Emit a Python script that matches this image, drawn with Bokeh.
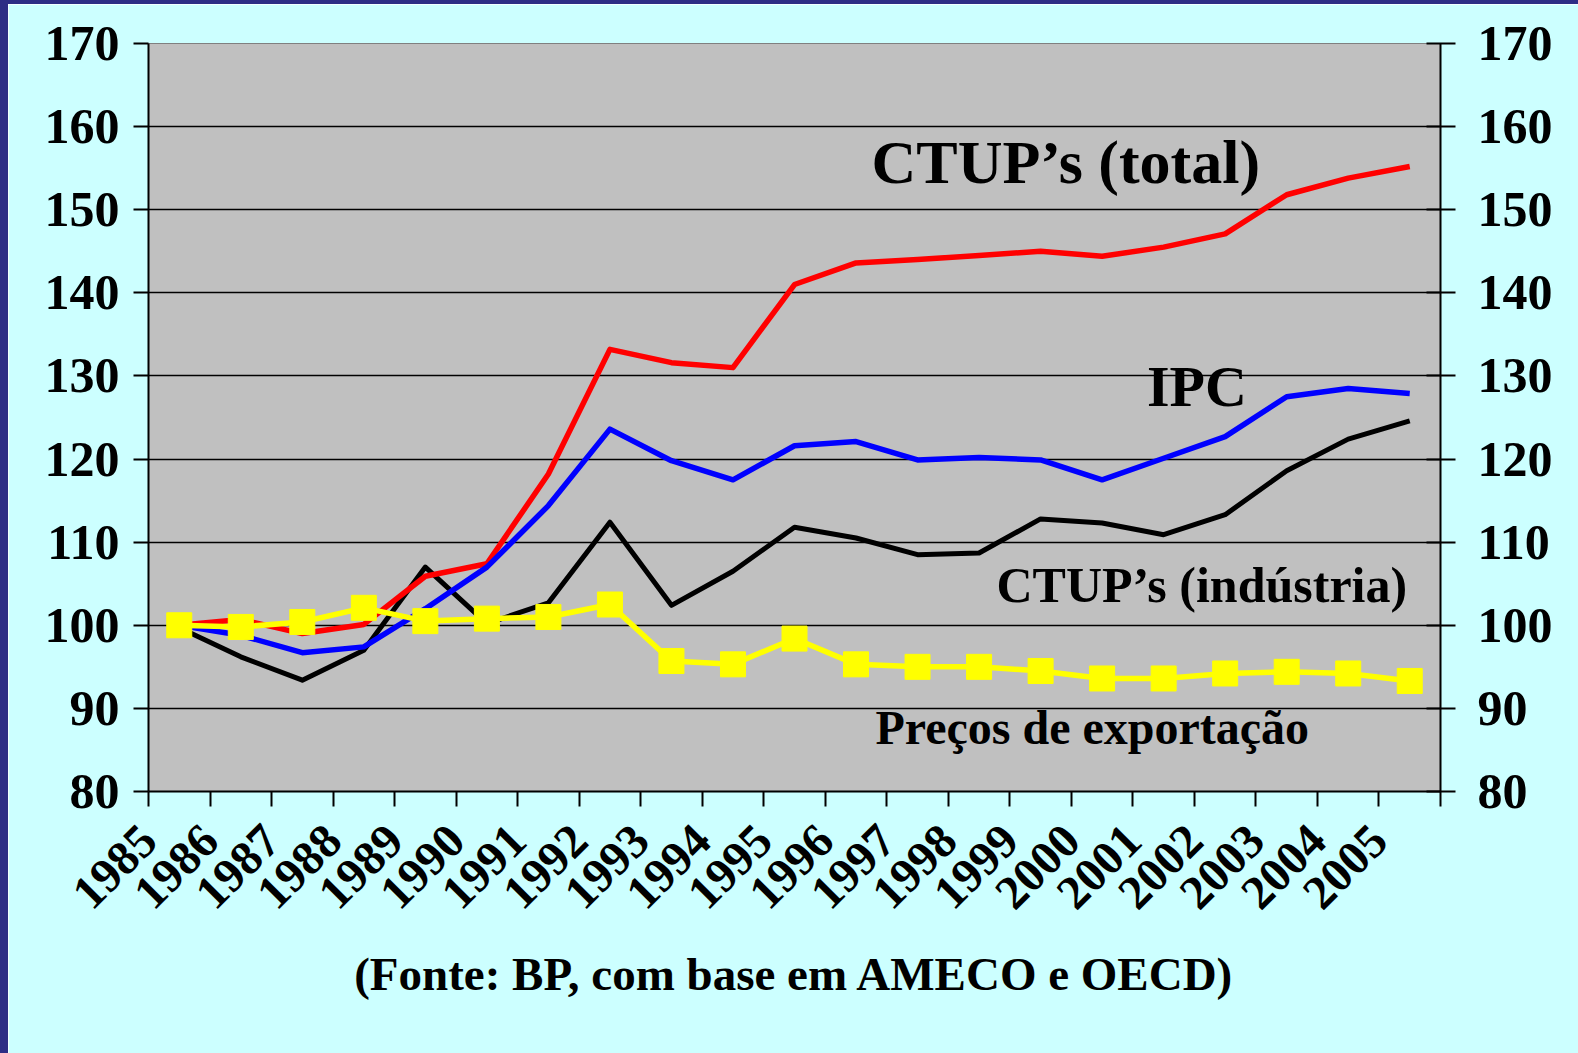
from math import pi
from bokeh.plotting import figure
from bokeh.models import Range1d, LinearAxis, FixedTicker, Label, Spacer
from bokeh.layouts import row, column
from bokeh.embed import file_html
from bokeh.resources import INLINE

years = ["1985", "1986", "1987", "1988", "1989", "1990", "1991", "1992", "1993", "1994",
         "1995", "1996", "1997", "1998", "1999", "2000", "2001", "2002", "2003", "2004", "2005"]
ctup_total = [100.0, 100.7, 99.0, 100.1, 105.9, 107.4, 118.2, 133.2, 131.6, 131.0,
              141.0, 143.6, 144.0, 144.5, 145.0, 144.4, 145.5, 147.1, 151.8, 153.8, 155.2]
ipc = [100.0, 98.8, 96.7, 97.4, 102.0, 107.0, 114.4, 123.6, 119.8, 117.5,
       121.6, 122.1, 119.9, 120.2, 119.9, 117.5, 120.1, 122.7, 127.5, 128.5, 127.9]
ctup_ind = [99.7, 96.2, 93.4, 97.0, 107.0, 100.2, 102.7, 112.4, 102.4, 106.5,
            111.8, 110.5, 108.5, 108.7, 112.8, 112.3, 110.9, 113.3, 118.6, 122.4, 124.6]
export_prices = [100.0, 99.8, 100.4, 102.1, 100.5, 100.8, 101.0, 102.5, 95.7, 95.3,
                 98.4, 95.3, 95.0, 95.0, 94.5, 93.6, 93.6, 94.2, 94.4, 94.2, 93.3]
y_ticks = [80, 90, 100, 110, 120, 130, 140, 150, 160, 170]
source_note = "(Fonte: BP, com base em AMECO e OECD)"

FONT = "Liberation Serif"
NAVY = "#2D2D85"
n = len(years)
xs = [i + 0.5 for i in range(n)]

p = figure(width=1570, height=1049, output_backend="svg", toolbar_location=None,
           x_range=Range1d(0, n), y_range=Range1d(y_ticks[0], y_ticks[-1]),
           min_border_left=140, min_border_right=138, min_border_top=39, min_border_bottom=262,
           background_fill_color="#C0C0C0", border_fill_color="#CCFFFF",
           outline_line_color="#808080", outline_line_width=1)

# grid
p.xgrid.visible = False
p.ygrid.ticker = FixedTicker(ticks=y_ticks)
p.ygrid.grid_line_color = "black"
p.ygrid.grid_line_width = 1.5

# x axis
xa = p.xaxis[0]
xa.ticker = FixedTicker(ticks=list(range(n + 1)))
ov = {i: years[i] for i in range(n)}
ov[n] = ""
xa.major_label_overrides = ov
xa.major_label_orientation = pi / 4
xa.major_tick_out = 15
xa.major_tick_in = 0
xa.minor_tick_line_color = None
xa.axis_line_width = 2
xa.major_tick_line_width = 2
xa.major_label_standoff = 26
xa.major_label_text_font = FONT
xa.major_label_text_font_style = "bold"
xa.major_label_text_font_size = "48px"
xa.major_label_text_color = "black"
xa.axis_label = source_note
xa.axis_label_text_font = FONT
xa.axis_label_text_font_style = "bold"
xa.axis_label_text_font_size = "47px"
xa.axis_label_text_color = "black"
xa.axis_label_standoff = 22

# left y axis
ya = p.yaxis[0]
ya.ticker = FixedTicker(ticks=y_ticks)
ya.major_tick_out = 15
ya.major_tick_in = 0
ya.minor_tick_line_color = None
ya.axis_line_width = 2
ya.major_tick_line_width = 2
ya.major_label_standoff = 14
ya.major_label_text_font = FONT
ya.major_label_text_font_style = "bold"
ya.major_label_text_font_size = "50px"
ya.major_label_text_color = "black"

# right y axis
p.extra_y_ranges = {"r": Range1d(y_ticks[0], y_ticks[-1])}
ra = LinearAxis(y_range_name="r", ticker=FixedTicker(ticks=y_ticks))
ra.major_tick_out = 15
ra.major_tick_in = 14
ra.minor_tick_line_color = None
ra.axis_line_width = 2
ra.major_tick_line_width = 2
ra.major_label_standoff = 22
ra.major_label_text_font = FONT
ra.major_label_text_font_style = "bold"
ra.major_label_text_font_size = "50px"
ra.major_label_text_color = "black"
p.add_layout(ra, "right")

# series
p.line(xs, ctup_ind, line_color="black", line_width=5, line_join="round")
p.line(xs, ctup_total, line_color="#FF0000", line_width=5.5, line_join="round")
p.line(xs, ipc, line_color="#0000FF", line_width=5.5, line_join="round")
p.line(xs, export_prices, line_color="#FFFF00", line_width=5.5, line_join="round")
p.scatter(xs, export_prices, marker="square", size=25, fill_color="#FFFF00", line_color="#FFFF00")

# series labels
def lab(x, y, text, size):
    p.add_layout(Label(x=x, y=y, text=text, text_align="center", text_baseline="alphabetic",
                       text_font=FONT, text_font_style="bold", text_font_size=size,
                       text_color="black"))

lab(14.91, 155.8, "CTUP\u2019s (total)", "62px")
lab(17.04, 128.7, "IPC", "58px")
lab(17.12, 104.9, "CTUP\u2019s (ind\u00fastria)", "50px")
lab(15.34, 87.7, "Pre\u00e7os de exporta\u00e7\u00e3o", "48px")

left_bar = Spacer(width=8, height=1053, styles={"background-color": NAVY})
top_bar = Spacer(width=1570, height=4, styles={"background-color": NAVY})
layout = row(left_bar, column(top_bar, p, spacing=0), spacing=0)

open("out.html", "w").write(file_html(layout, INLINE))
